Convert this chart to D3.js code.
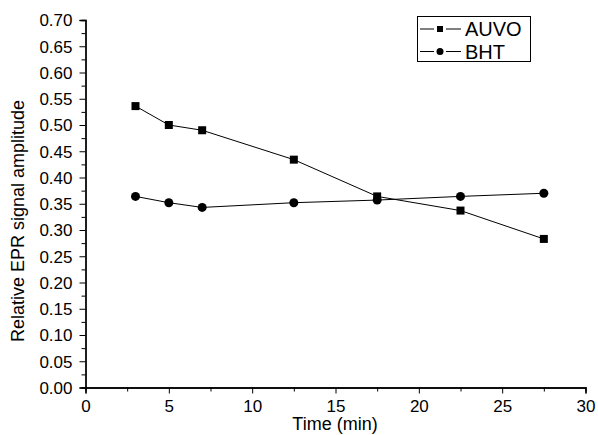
<!DOCTYPE html>
<html>
<head>
<meta charset="utf-8">
<script src="https://cdn.jsdelivr.net/npm/d3@7"></script>
<style>
  body { margin: 0; background: #fff; }
  svg text { font-family: Arial, "Liberation Sans", sans-serif; fill: #000; }
</style>
</head>
<body>
<svg id="chart" width="598" height="435"></svg>
<script>
// data
var times = [3, 5, 7, 12.5, 17.5, 22.5, 27.5]
var auvo = [0.536, 0.500, 0.490, 0.434, 0.364, 0.337, 0.283]
var bht = [0.364, 0.352, 0.343, 0.352, 0.357, 0.364, 0.370]
var seriesNames = ["AUVO", "BHT"]
var xTicks = [0, 5, 10, 15, 20, 25, 30]
var yTicks = d3.range(0, 0.701, 0.05)

var svg = d3.select("#chart")

var x = d3.scaleLinear().domain([0, 30]).range([85.5, 585.5])
var y = d3.scaleLinear().domain([0, 0.7]).range([387.5, 20])

//axes - Origin style, ticks pointing outwards, minor ticks between
var xAxis = svg.append("g").attr("transform", "translate(0,387.5)")
xAxis.call(d3.axisBottom(x).tickValues(xTicks).tickSize(6).tickFormat(d3.format("d")))
svg.append("g").attr("transform", "translate(0,387.5)")
    .call(d3.axisBottom(x).tickValues(d3.range(2.5, 30, 5)).tickSize(4).tickFormat(""))

var yAxis = svg.append("g").attr("transform", "translate(85.5,0)")
yAxis.call(d3.axisLeft(y).tickValues(yTicks).tickSize(6).tickFormat(d3.format(".2f")))
svg.append("g").attr("transform", "translate(85.5,0)")
    .call(d3.axisLeft(y).tickValues(d3.range(0.025, 0.7, 0.05)).tickSize(4).tickFormat(""))

svg.selectAll(".domain").attr("stroke", "#000").attr("stroke-width", 1.3)
svg.selectAll(".tick line").attr("stroke", "#000").attr("stroke-width", 1)
svg.selectAll(".tick text").style("font-size", "17px").style("font-family", "Arial, 'Liberation Sans', sans-serif")
xAxis.selectAll(".tick text").attr("y", 24.5).attr("dy", 0)
yAxis.selectAll(".tick text").attr("x", -13).attr("dy", "0.34em")

svg.append("text")
    .attr("x", 335).attr("y", 430)
    .attr("text-anchor", "middle")
    .style("font-size", "18px")
    .text("Time (min)")

svg.append("text")
    .attr("transform", "translate(24,221) rotate(-90)")
    .attr("text-anchor", "middle")
    .style("font-size", "18px")
    .text("Relative EPR signal amplitude")

var line = d3.line()
    .x(function(d) { return x(d[0]) })
    .y(function(d) { return y(d[1]) })

var data = [auvo, bht].map(function(vals) {
    return vals.map(function(v, i) { return [times[i], v] })
})

data.forEach(function(pts, s) {
    svg.append("path")
        .datum(pts)
        .attr("fill", "none")
        .attr("stroke", "#000")
        .attr("stroke-width", 1)
        .attr("d", line)
})

function drawMarker(g, s, cx, cy, size) {
    if (s == 0) {
        g.append("rect")
            .attr("x", cx - size / 2).attr("y", cy - size / 2)
            .attr("width", size).attr("height", size)
            .attr("fill", "#000")
    } else {
        g.append("circle")
            .attr("cx", cx).attr("cy", cy)
            .attr("r", size / 2 + 0.5)
            .attr("fill", "#000")
    }
}

var markers = svg.append("g")
data.forEach(function(pts, s) {
    pts.forEach(function(p) {
        drawMarker(markers, s, x(p[0]), y(p[1]), 8)
    })
})

//legend
var legend = svg.append("g")
legend.append("rect")
    .attr("x", 417.5).attr("y", 16.5)
    .attr("width", 113).attr("height", 45)
    .attr("fill", "#fff").attr("stroke", "#000").attr("stroke-width", 1)

seriesNames.forEach(function(name, i) {
    var cy = 29 + i * 22.5
    legend.append("line")
        .attr("x1", 420).attr("x2", 461)
        .attr("y1", cy).attr("y2", cy)
        .attr("stroke", "#000").attr("stroke-width", 1)
    legend.append("rect")
        .attr("x", 434).attr("y", cy - 4)
        .attr("width", 12).attr("height", 8)
        .attr("fill", "#fff")
    drawMarker(legend, i, 440, cy, 6)
    legend.append("text")
        .attr("x", 465).attr("y", cy + 7)
        .style("font-size", "20px")
        .text(name)
})
</script>
</body>
</html>
